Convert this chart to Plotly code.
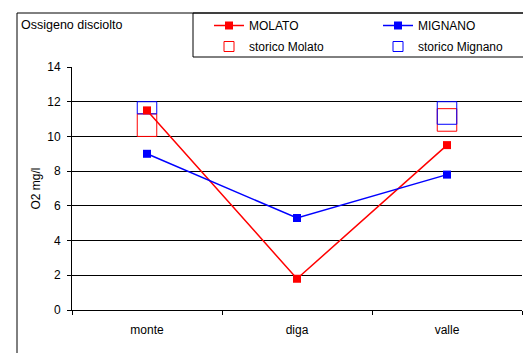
import plotly.graph_objects as go

categories = ["monte", "diga", "valle"]
molato = [11.5, 1.8, 9.5]
mignano = [9.0, 5.3, 7.8]
storico_molato_min = [10.0, None, 10.3]
storico_molato_max = [11.3, None, 11.6]
storico_mignano_min = [11.3, None, 10.7]
storico_mignano_max = [12.0, None, 12.0]
y_ticks = [0, 2, 4, 6, 8, 10, 12, 14]

W, H = 523, 353
L, R, T, B = 72, 1, 67, 43
pw, ph = W - L - R, H - T - B


def px_x(p):
    return (p - L) / pw


def px_y(p):
    return (H - B - p) / ph


RED = "#ff0000"
BLUE = "#0000ff"
FONT = "Liberation Sans, Arial, sans-serif"

fig = go.Figure()


def span(lo, hi):
    return [None if a is None else b - a for a, b in zip(lo, hi)]


fig.add_trace(go.Bar(
    x=categories, y=span(storico_molato_min, storico_molato_max),
    base=storico_molato_min, name="storico Molato", width=0.13,
    marker=dict(color="rgba(0,0,0,0)", line=dict(color=RED, width=1)),
    showlegend=False,
))
fig.add_trace(go.Bar(
    x=categories, y=span(storico_mignano_min, storico_mignano_max),
    base=storico_mignano_min, name="storico Mignano", width=0.13,
    marker=dict(color="rgba(0,0,0,0)", line=dict(color=BLUE, width=1)),
    showlegend=False,
))

fig.add_trace(go.Scatter(
    x=categories, y=molato, name="MOLATO", mode="lines+markers",
    line=dict(color=RED, width=1.5),
    marker=dict(symbol="square", size=8, color=RED),
    legend="legend", legendgroup="a", legendrank=1,
))
fig.add_trace(go.Scatter(
    x=categories, y=mignano, name="MIGNANO", mode="lines+markers",
    line=dict(color=BLUE, width=1.5),
    marker=dict(symbol="square", size=8, color=BLUE),
    legend="legend2", legendgroup="c", legendrank=1,
))
# legend-only entries for the historical ranges
fig.add_trace(go.Scatter(
    x=[None], y=[None], name="storico Molato", mode="markers",
    marker=dict(symbol="square-open", size=10, color=RED, line=dict(width=1)),
    legend="legend", legendgroup="b", legendrank=2,
))
fig.add_trace(go.Scatter(
    x=[None], y=[None], name="storico Mignano", mode="markers",
    marker=dict(symbol="square-open", size=10, color=BLUE, line=dict(width=1)),
    legend="legend2", legendgroup="d", legendrank=2,
))

legend_common = dict(
    orientation="v", yanchor="top", xanchor="left",
    bgcolor="rgba(0,0,0,0)", borderwidth=0,
    font=dict(family=FONT, size=12, color="#000"),
    tracegroupgap=2,
)

fig.update_layout(
    width=W, height=H,
    margin=dict(l=L, r=R, t=T, b=B),
    paper_bgcolor="white", plot_bgcolor="white",
    barmode="overlay",
    font=dict(family=FONT, size=12, color="#000"),
    showlegend=True,
    legend=dict(x=px_x(209), y=px_y(11), **legend_common),
    legend2=dict(x=px_x(378), y=px_y(11), **legend_common),
    xaxis=dict(
        type="category", range=[-0.5, 2.5],
        showline=True, linecolor="#000", linewidth=1,
        ticks="outside", tickson="boundaries", ticklen=4, tickcolor="#000",
        showgrid=False, ticklabelstandoff=9,
        tickfont=dict(size=12),
        fixedrange=True,
    ),
    yaxis=dict(
        range=[0, 14], tickvals=y_ticks,
        showline=True, linecolor="#000", linewidth=1,
        ticks="outside", ticklen=4, tickcolor="#000",
        showgrid=True, gridcolor="#000", gridwidth=1,
        zeroline=False, ticklabelstandoff=4,
        tickfont=dict(size=12),
        title=dict(text="O2 mg/l", font=dict(size=12), standoff=4),
    ),
    shapes=[
        dict(
            type="rect", xref="paper", yref="paper",
            x0=px_x(17), x1=px_x(540), y0=px_y(370), y1=px_y(13),
            line=dict(color="#000", width=1), fillcolor="rgba(0,0,0,0)",
            layer="below",
        ),
        dict(
            type="rect", xref="paper", yref="paper",
            x0=px_x(193), x1=px_x(540), y0=px_y(57), y1=px_y(13),
            line=dict(color="#000", width=1), fillcolor="rgba(0,0,0,0)",
            layer="below",
        ),
    ],
    annotations=[dict(
        text="Ossigeno disciolto", xref="paper", yref="paper",
        x=px_x(19), y=px_y(25), xanchor="left", yanchor="middle",
        showarrow=False, font=dict(family=FONT, size=12.5, color="#000"),
    )],
)

fig.write_html("out.html")
